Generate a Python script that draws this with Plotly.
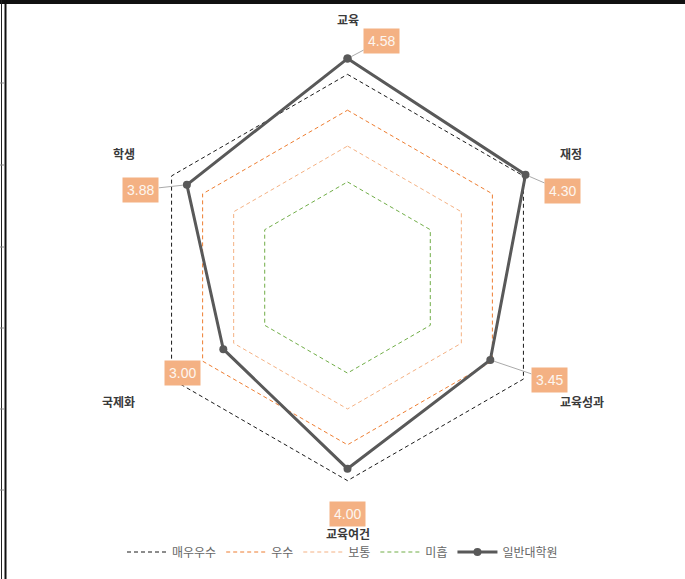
import plotly.graph_objects as go
import numpy as np

categories = ["교육", "재정", "교육성과", "교육여건", "국제화", "학생"]
series_name = "일반대학원"
series_values = [4.58, 4.30, 3.45, 4.00, 3.00, 3.88]
ref_names = ["매우우수", "우수", "보통", "미흡"]
ref_levels = [4.25, 3.5, 2.75, 2.0]
ref_colors = ["#1a1a1a", "#ED7D31", "#F4B183", "#70AD47"]
label_texts = ["4.58", "4.30", "3.45", "4.00", "3.00", "3.88"]
# label box offsets (px) relative to the point, and whether a leader line shows
label_offsets = [(34, -18), (37, 16), (59, 20), (0, 45), (-41, 24), (-46, 5)]
leader_visible = [True, True, True, False, False, True]

W, H = 685, 579
cx, cy, R = 347.5, 277.5, 239.0
RMAX = 5.0
dom_x = [(cx - R) / W, (cx + R) / W]
dom_y = [(H - cy - R) / H, (H - cy + R) / H]

FONT = "Noto Sans CJK KR"
theta_closed = categories + [categories[0]]

fig = go.Figure()
for name, lvl, col in zip(ref_names, ref_levels, ref_colors):
    fig.add_trace(go.Scatterpolar(
        r=[lvl] * (len(categories) + 1), theta=theta_closed, name=name,
        mode="lines", line=dict(color=col, width=1, dash="4px,3px"),
        hoverinfo="skip"))

fig.add_trace(go.Scatterpolar(
    r=series_values + [series_values[0]], theta=theta_closed, name=series_name,
    mode="lines+markers", line=dict(color="#595959", width=3),
    marker=dict(size=8, color="#595959")))

# hidden cartesian overlay aligned with polar for annotations
fig.update_layout(
    xaxis=dict(domain=dom_x, range=[-RMAX, RMAX], visible=False, fixedrange=True),
    yaxis=dict(domain=dom_y, range=[-RMAX, RMAX], visible=False, fixedrange=True),
)
fig.add_trace(go.Scatter(x=[None], y=[None], showlegend=False, hoverinfo="skip"))

n = len(categories)
# category labels
for i, cat in enumerate(categories):
    ang = np.pi / 2 - 2 * np.pi * i / n
    c, s = np.cos(ang), np.sin(ang)
    if abs(c) < 1e-6:
        xa, xs = "center", 0
        ya, ys = "middle", (19 if s > 0 else -17)
    else:
        xa = "left" if c > 0 else "right"
        xs = 3.5 if c > 0 else -3.5
        ya, ys = "middle", (5 if s > 0 else -4)
    fig.add_annotation(
        x=RMAX * c, y=RMAX * s, xref="x", yref="y", text=cat, showarrow=False,
        xanchor=xa, yanchor=ya, xshift=xs, yshift=ys,
        font=dict(family=FONT, size=12, color="#3a3a3a", weight=700))

for i, (v, txt, (ox, oy), lv) in enumerate(zip(series_values, label_texts,
                                               label_offsets, leader_visible)):
    ang = np.pi / 2 - 2 * np.pi * i / n
    fig.add_annotation(
        x=v * np.cos(ang), y=v * np.sin(ang), xref="x", yref="y",
        text=txt, showarrow=True, arrowhead=0, arrowwidth=1,
        arrowcolor="#aaaaaa" if lv else "rgba(0,0,0,0)",
        ax=ox, ay=oy, axref="pixel", ayref="pixel",
        bgcolor="#F4B183", borderpad=4, standoff=4,
        font=dict(family="Liberation Sans, Arial", size=14, color="#fdf6f0"))

fig.update_layout(
    width=W, height=H,
    margin=dict(l=0, r=0, t=0, b=0),
    paper_bgcolor="white", plot_bgcolor="white",
    polar=dict(
        domain=dict(x=dom_x, y=dom_y),
        bgcolor="rgba(0,0,0,0)",
        radialaxis=dict(range=[0, RMAX], visible=False, showgrid=False),
        angularaxis=dict(rotation=90, direction="clockwise", showgrid=False,
                         showline=False, ticks="", showticklabels=False),
    ),
    legend=dict(orientation="h", x=0.5, xanchor="center", y=(H - 552) / H,
                yanchor="middle", font=dict(family=FONT, size=12, color="#666666"),
                itemwidth=40, bgcolor="rgba(0,0,0,0)"),
    font=dict(family=FONT),
)

# frame decoration (top bar, left double line, small ticks)
fig.add_shape(type="rect", xref="paper", yref="paper", x0=0, x1=1,
              y0=1 - 4 / H, y1=1, fillcolor="#111111", line_width=0)
fig.add_shape(type="line", xref="paper", yref="paper", x0=1.5 / W, x1=1.5 / W,
              y0=0, y1=1, line=dict(color="#222222", width=1))
fig.add_shape(type="line", xref="paper", yref="paper", x0=5.5 / W, x1=5.5 / W,
              y0=0, y1=1, line=dict(color="#111111", width=2))
for ty in [83, 165, 247, 328, 409, 490]:
    fig.add_shape(type="line", xref="paper", yref="paper", x0=0, x1=4 / W,
                  y0=1 - ty / H, y1=1 - ty / H, line=dict(color="#888888", width=1))

fig.write_html("out.html", config={"displayModeBar": False},
               post_script="document.body.style.margin='0';document.body.style.padding='0';")
